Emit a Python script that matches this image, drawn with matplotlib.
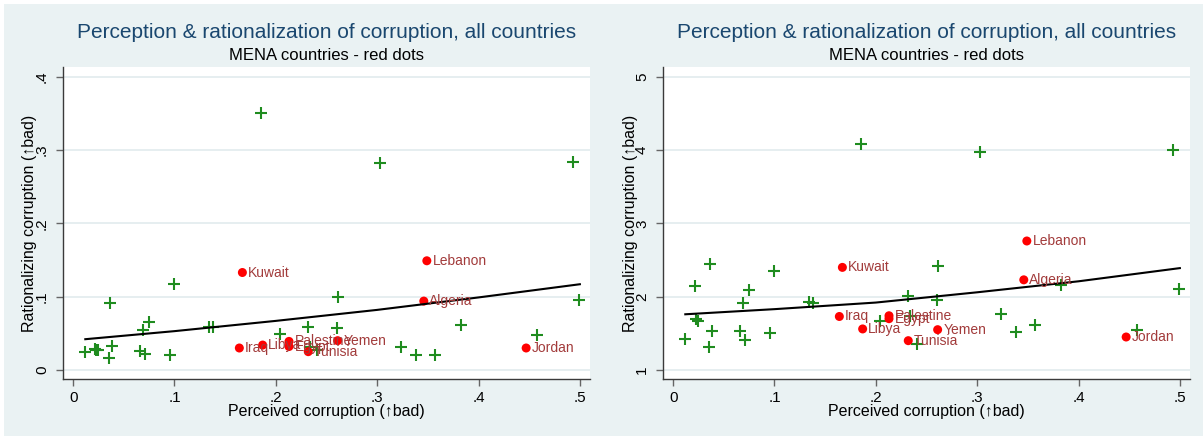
import matplotlib
matplotlib.use("Agg")
import matplotlib.pyplot as plt
from matplotlib.patches import Rectangle

plt.rcParams['font.family'] = ['Liberation Sans', 'DejaVu Sans']

# non-MENA countries (green pluses): perceived corruption, and rationalizing in both versions
other_x = [0.012, 0.022, 0.023, 0.025, 0.035, 0.036, 0.038, 0.066, 0.069, 0.071,
           0.075, 0.096, 0.100, 0.134, 0.138, 0.185, 0.204, 0.232, 0.234, 0.241,
           0.260, 0.261, 0.303, 0.324, 0.338, 0.357, 0.383, 0.458, 0.493, 0.499]
other_y_left = [0.025, 0.028, 0.027, 0.027, 0.017, 0.092, 0.033, 0.026, 0.055, 0.022,
                0.066, 0.021, 0.117, 0.058, 0.058, 0.351, 0.049, 0.058, 0.031, 0.027,
                0.057, 0.099, 0.283, 0.032, 0.020, 0.020, 0.061, 0.048, 0.284, 0.096]
other_y_right = [1.42, 2.14, 1.70, 1.67, 1.31, 2.45, 1.53, 1.53, 1.92, 1.41,
                 2.09, 1.51, 2.35, 1.93, 1.91, 4.08, 1.67, 2.01, 1.74, 1.36,
                 1.96, 2.42, 3.98, 1.77, 1.52, 1.62, 2.16, 1.55, 4.00, 2.10]

# MENA countries (red dots)
mena_names = ["Kuwait", "Lebanon", "Algeria", "Iraq", "Libya",
              "Palestine", "Egypt", "Tunisia", "Yemen", "Jordan"]
mena_x = [0.167, 0.349, 0.346, 0.164, 0.187, 0.213, 0.213, 0.232, 0.261, 0.447]
mena_y_left = [0.133, 0.149, 0.094, 0.030, 0.034, 0.039, 0.032, 0.025, 0.040, 0.030]
mena_y_right = [2.40, 2.76, 2.23, 1.73, 1.56, 1.74, 1.70, 1.40, 1.55, 1.45]

# fitted line
fit_x = [0.012, 0.1, 0.2, 0.3, 0.4, 0.5]
fit_y_left = [0.042, 0.053, 0.067, 0.082, 0.099, 0.117]
fit_y_right = [1.76, 1.83, 1.92, 2.06, 2.21, 2.39]

x_ticks = [0, 0.1, 0.2, 0.3, 0.4, 0.5]
x_ticklabels = ["0", ".1", ".2", ".3", ".4", ".5"]
yl_ticks = [0, 0.1, 0.2, 0.3, 0.4]
yl_ticklabels = ["0", ".1", ".2", ".3", ".4"]
yr_ticks = [1, 2, 3, 4, 5]
yr_ticklabels = ["1", "2", "3", "4", "5"]

title = "Perception & rationalization of corruption, all countries"
subtitle = "MENA countries - red dots"
xlabel = "Perceived corruption (\u2191bad)"
ylabel = "Rationalizing corruption (\u2191bad)"

BG = "#EAF2F3"
W, H = 1203, 436

fig = plt.figure(figsize=(W / 100, H / 100), dpi=100)
fig.patch.set_facecolor("white")
fig.add_artist(Rectangle((4 / W, 0), 1, (H - 4) / H, transform=fig.transFigure,
                         facecolor=BG, edgecolor="none", zorder=-10))


def panel(left_px, oy, ylim, yticks, yticklabels, fy):
    right_px = left_px + 527
    ax = fig.add_axes([left_px / W, 1 - 379 / H, 527 / W, (379 - 67) / H])
    ax.set_facecolor("white")
    for s in ["top", "right"]:
        ax.spines[s].set_visible(False)
    for s in ["left", "bottom"]:
        ax.spines[s].set_color("#3a3a3a")
        ax.spines[s].set_linewidth(1.0)
    ax.set_xlim(-0.01, 0.51)
    ax.set_ylim(*ylim)
    ax.set_xticks(x_ticks)
    ax.set_xticklabels(x_ticklabels)
    ax.set_yticks(yticks)
    ax.set_yticklabels(yticklabels, rotation=90, va="center")
    ax.tick_params(direction="out", length=5, width=1, color="#666666",
                   labelsize=11, labelcolor="black")
    ax.tick_params(axis="y", pad=5)
    ax.tick_params(axis="x", pad=4)
    ax.grid(axis="y", color="#E2EBED", linewidth=1.2)
    ax.set_axisbelow(True)

    ax.scatter(other_x, oy, marker="+", s=70, linewidths=1.5, color="#1f8c1f", zorder=3)
    ax.scatter(mena_x, fy[0], marker="o", s=42, color="#ff0000", edgecolors="none", zorder=4)
    for name, x, y in zip(mena_names, mena_x, fy[0]):
        ax.annotate(name, (x, y), xytext=(4, 0), textcoords="offset points",
                    ha="left", va="center", fontsize=10, color="#a23b3b", zorder=5)
    ax.plot(fit_x, fy[1], color="black", linewidth=1.5, zorder=4)

    cx = (left_px + right_px) / 2 / W
    fig.text(cx, 1 - 32 / H, title, ha="center", va="center", fontsize=15, color="#1A476F")
    fig.text(cx, 1 - 55 / H, subtitle, ha="center", va="center", fontsize=12, color="black")
    fig.text(cx, 1 - 411 / H, xlabel, ha="center", va="center", fontsize=11.5, color="black")
    fig.text((left_px - 33) / W, 1 - 223 / H, ylabel, ha="center", va="center",
             rotation=90, fontsize=11.5, color="black")
    return ax


panel(63, other_y_left, (-0.0123, 0.4134), yl_ticks, yl_ticklabels,
      (mena_y_left, fit_y_left))
panel(663, other_y_right, (0.877, 5.134), yr_ticks, yr_ticklabels,
      (mena_y_right, fit_y_right))

fig.savefig("out.png", dpi=100, facecolor=fig.get_facecolor())
